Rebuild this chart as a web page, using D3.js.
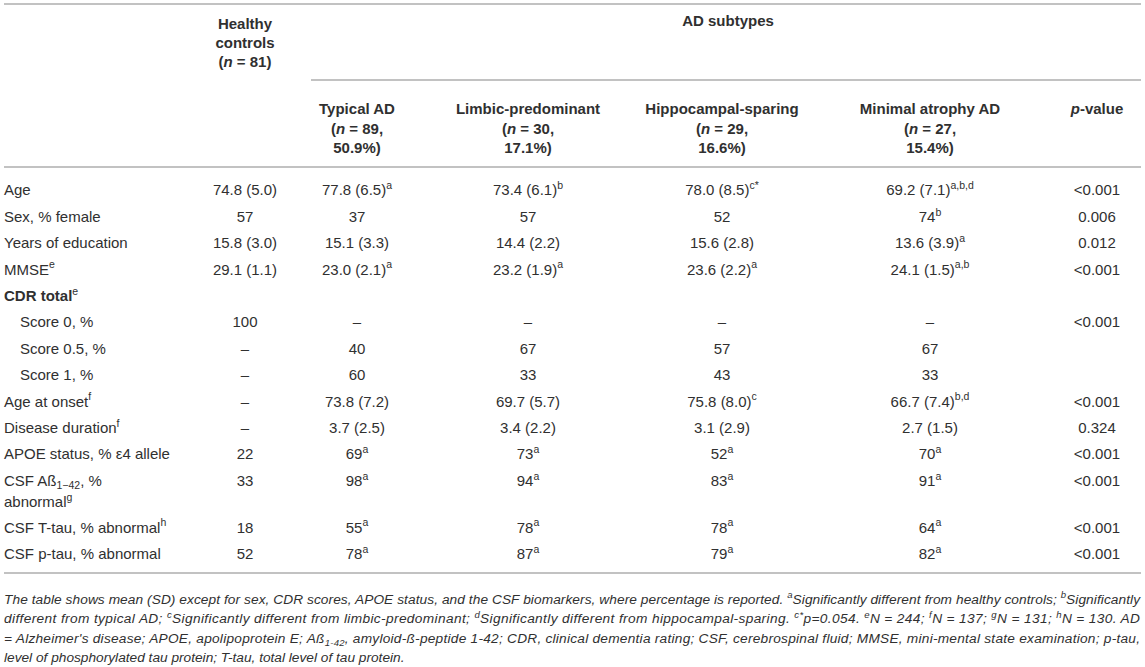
<!DOCTYPE html>
<html>
<head>
<meta charset="utf-8">
<script src="https://cdn.jsdelivr.net/npm/d3@7"></script>
<style>
  body { margin: 0; background: #fff; }
  svg { display: block; }
</style>
</head>
<body>
<svg id="tbl"></svg>
<script>
// markup in the strings: ^{..} superscript, _{..} subscript, *{..} italic, |{..} bold
let columns = ["healthy", "typical", "limbic", "hippo", "minimal", "pval"];

let groupHeader = ["Healthy", "controls", "(*{n} = 81)"];
let subtypeTitle = "AD subtypes";
let subHeaders = [
    ["Typical AD", "(*{n} = 89,", "50.9%)"],
    ["Limbic-predominant", "(*{n} = 30,", "17.1%)"],
    ["Hippocampal-sparing", "(*{n} = 29,", "16.6%)"],
    ["Minimal atrophy AD", "(*{n} = 27,", "15.4%)"],
    ["*{p}-value"]
];

let rowLabels = [
    ["Age"],
    ["Sex, % female"],
    ["Years of education"],
    ["MMSE^{e}"],
    ["|{CDR total}^{e}"],
    ["Score 0, %"],
    ["Score 0.5, %"],
    ["Score 1, %"],
    ["Age at onset^{f}"],
    ["Disease duration^{f}"],
    ["APOE status, % ε4 allele"],
    ["CSF Aß_{1−42}, %", "abnormal^{g}"],
    ["CSF T-tau, % abnormal^{h}"],
    ["CSF p-tau, % abnormal"]
];
let indented = [false, false, false, false, false, true, true, true, false, false, false, false, false, false];

let healthy = ["74.8 (5.0)", "57", "15.8 (3.0)", "29.1 (1.1)", "", "100", "–", "–", "–", "–", "22", "33", "18", "52"];
let typical = ["77.8 (6.5)^{a}", "37", "15.1 (3.3)", "23.0 (2.1)^{a}", "", "–", "40", "60", "73.8 (7.2)", "3.7 (2.5)", "69^{a}", "98^{a}", "55^{a}", "78^{a}"];
let limbic = ["73.4 (6.1)^{b}", "57", "14.4 (2.2)", "23.2 (1.9)^{a}", "", "–", "67", "33", "69.7 (5.7)", "3.4 (2.2)", "73^{a}", "94^{a}", "78^{a}", "87^{a}"];
let hippo = ["78.0 (8.5)^{c*}", "52", "15.6 (2.8)", "23.6 (2.2)^{a}", "", "–", "57", "43", "75.8 (8.0)^{c}", "3.1 (2.9)", "52^{a}", "83^{a}", "78^{a}", "79^{a}"];
let minimal = ["69.2 (7.1)^{a,b,d}", "74^{b}", "13.6 (3.9)^{a}", "24.1 (1.5)^{a,b}", "", "–", "67", "33", "66.7 (7.4)^{b,d}", "2.7 (1.5)", "70^{a}", "91^{a}", "64^{a}", "82^{a}"];
let pvals = ["<0.001", "0.006", "0.012", "<0.001", "", "<0.001", "", "", "<0.001", "0.324", "<0.001", "<0.001", "<0.001", "<0.001"];

let footnote = [
    "The table shows mean (SD) except for sex, CDR scores, APOE status, and the CSF biomarkers, where percentage is reported. ^{a}Significantly different from healthy controls; ^{b}Significantly",
    "different from typical AD; ^{c}Significantly different from limbic-predominant; ^{d}Significantly different from hippocampal-sparing. ^{c*}p=0.054. ^{e}N = 244; ^{f}N = 137; ^{g}N = 131; ^{h}N = 130. AD",
    "= Alzheimer's disease; APOE, apolipoprotein E; Aß_{1-42}, amyloid-ß-peptide 1-42; CDR, clinical dementia rating; CSF, cerebrospinal fluid; MMSE, mini-mental state examination; p-tau,",
    "level of phosphorylated tau protein; T-tau, total level of tau protein."
];

let W = 1145, H = 667;
let fontSize = 15, noteSize = 13.7;
let textColor = "#303030", ruleColor = "#c2c2c2";
let rowStep = 26.4, lineStep = 21, extraStep = 20.5;

let svg = d3.select("#tbl")
    .attr("width", W)
    .attr("height", H)
    .style("font-family", "'Liberation Sans', Arial, Helvetica, sans-serif")
    .style("fill", textColor);

// column centers
let x = d3.scaleOrdinal()
    .domain(columns)
    .range([245, 357, 528, 722, 930, 1097]);

// writes a marked-up string into a text element as tspans
function rich(textSel, str, size) {
    let parts = str.split(/(\^\{[^}]*\}|_\{[^}]*\}|\*\{[^}]*\}|\|\{[^}]*\})/).filter(function (s) {
        return s !== "";
    });
    let shift = 0;
    parts.forEach(function (p) {
        let t = textSel.append("tspan");
        let target = 0, txt = p;
        if (p.startsWith("^{")) {
            target = -size * 0.42;
            txt = p.slice(2, -1);
            t.style("font-size", (size * 0.7) + "px");
        } else if (p.startsWith("_{")) {
            target = size * 0.22;
            txt = p.slice(2, -1);
            t.style("font-size", (size * 0.7) + "px");
        } else if (p.startsWith("*{")) {
            txt = p.slice(2, -1);
            t.style("font-style", "italic");
        } else if (p.startsWith("|{")) {
            txt = p.slice(2, -1);
            t.style("font-weight", "bold");
        }
        if (target - shift !== 0) t.attr("dy", target - shift);
        shift = target;
        t.text(txt);
    });
}

function rule(x1, x2, y) {
    svg.append("line")
        .attr("x1", x1).attr("x2", x2)
        .attr("y1", y).attr("y2", y)
        .attr("stroke", ruleColor)
        .attr("stroke-width", 2);
}

// header
let base = fontSize * 0.36;
let headTop = 24;
groupHeader.forEach(function (s, i) {
    let t = svg.append("text")
        .attr("x", x("healthy"))
        .attr("y", headTop + i * 19 + base)
        .attr("text-anchor", "middle")
        .style("font-size", fontSize + "px")
        .style("font-weight", "bold");
    rich(t, s, fontSize);
});
svg.append("text")
    .attr("x", (x("typical") + x("pval")) / 2 + 1)
    .attr("y", 21 + base)
    .attr("text-anchor", "middle")
    .style("font-size", fontSize + "px")
    .style("font-weight", "bold")
    .text(subtypeTitle);

let subTop = 109;
subHeaders.forEach(function (lines, c) {
    lines.forEach(function (s, i) {
        let t = svg.append("text")
            .attr("x", x(columns[c + 1]))
            .attr("y", subTop + i * 19.5 + base)
            .attr("text-anchor", "middle")
            .style("font-size", fontSize + "px")
            .style("font-weight", "bold");
        rich(t, s, fontSize);
    });
});

rule(4, 1141, 4);
rule(311, 1141, 80);
rule(4, 1141, 167);

// body rows
let cols = [healthy, typical, limbic, hippo, minimal, pvals];
let rowY = [];
let yCur = 190;
rowLabels.forEach(function (lab, i) {
    rowY.push(yCur);
    yCur += rowStep + (lab.length - 1) * extraStep;
});

rowLabels.forEach(function (lab, i) {
    lab.forEach(function (s, k) {
        let t = svg.append("text")
            .attr("x", indented[i] ? 20 : 4)
            .attr("y", rowY[i] + k * lineStep + base)
            .style("font-size", fontSize + "px");
        rich(t, s, fontSize);
    });
    cols.forEach(function (arr, c) {
        if (arr[i] === "") return;
        let t = svg.append("text")
            .attr("x", x(columns[c]))
            .attr("y", rowY[i] + base)
            .attr("text-anchor", "middle")
            .style("font-size", fontSize + "px");
        rich(t, arr[i], fontSize);
    });
});

rule(4, 1141, 573);

// footnote, justified except the last line
footnote.forEach(function (s, i) {
    let t = svg.append("text")
        .attr("x", 4)
        .attr("y", 599 + i * 19.5 + noteSize * 0.36)
        .style("font-size", noteSize + "px")
        .style("font-style", "italic");
    rich(t, s, noteSize);
    if (i < footnote.length - 1) {
        t.attr("textLength", 1136).attr("lengthAdjust", "spacing");
    }
});
</script>
</body>
</html>
